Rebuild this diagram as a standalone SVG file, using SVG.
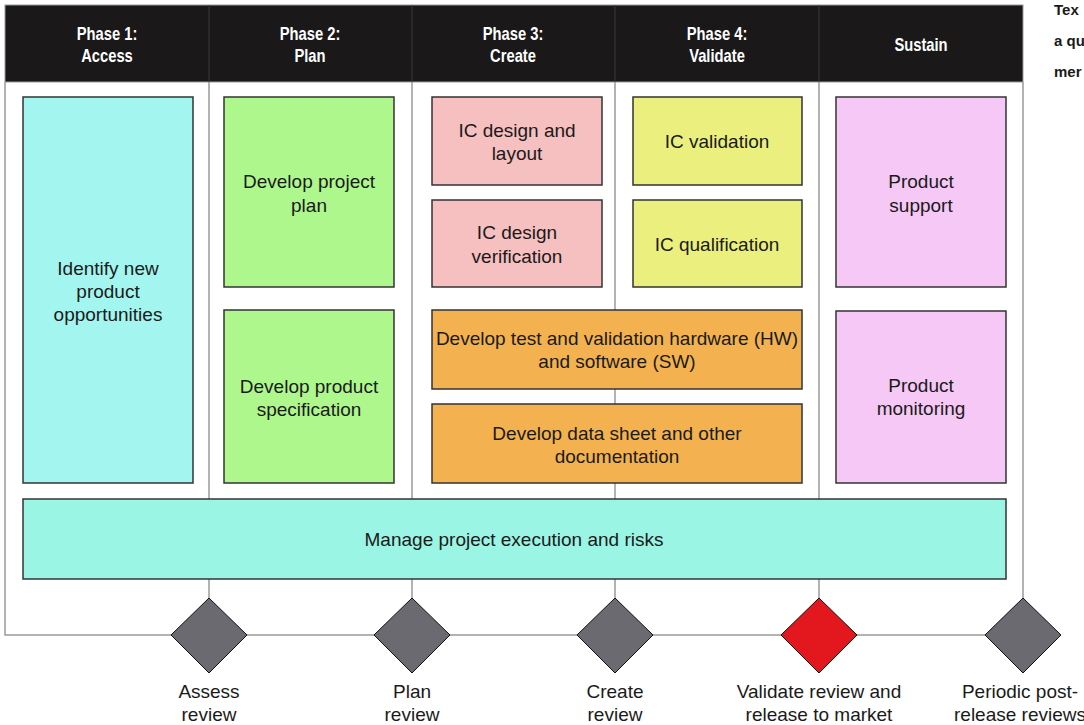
<svg xmlns="http://www.w3.org/2000/svg" width="1084" height="725" viewBox="0 0 1084 725">
  <style>
    .hdr { font-family: "Liberation Sans", Arial, sans-serif; font-weight: bold; font-size: 18px; fill: #ffffff; text-anchor: middle; }
    .lbl { font-family: "Liberation Sans", Arial, sans-serif; font-size: 19px; fill: #1a1a1a; text-anchor: middle; }
    .side { font-family: "Liberation Sans", Arial, sans-serif; font-weight: bold; font-size: 15px; fill: #1a1a1a; }
    .box { stroke: #333333; stroke-width: 1.5; }
    .rule { stroke: #9a9a9a; stroke-width: 1.5; fill: none; }
    .gate { fill: #6a6a70; stroke: #111111; stroke-width: 1; }
    .gate.red { fill: #e3171e; }
  </style>

  <rect x="0" y="0" width="1084" height="725" fill="#ffffff"/>

  <!-- frame, column rules and the review timeline -->
  <g id="connectors">
    <path class="rule" d="M5,82 V635 H171"/>
    <line class="rule" x1="247" y1="635" x2="374" y2="635"/>
    <line class="rule" x1="450" y1="635" x2="577" y2="635"/>
    <line class="rule" x1="653" y1="635" x2="781" y2="635"/>
    <line class="rule" x1="857" y1="635" x2="985" y2="635"/>
    <line class="rule" x1="1023" y1="82" x2="1023" y2="598"/>
    <line class="rule" x1="209" y1="82" x2="209" y2="598"/>
    <line class="rule" x1="412" y1="82" x2="412" y2="598"/>
    <line class="rule" x1="615" y1="82" x2="615" y2="598"/>
    <line class="rule" x1="819" y1="82" x2="819" y2="598"/>
  </g>

  <!-- phase header bar; titles are set in a condensed width -->
  <g id="header">
    <rect x="5" y="5" width="1018" height="77" fill="#1a1818" stroke="#9a9a9a" stroke-width="1"/>
    <g stroke="#3a3a3a" stroke-width="1">
      <line x1="209" y1="5" x2="209" y2="82"/>
      <line x1="412" y1="5" x2="412" y2="82"/>
      <line x1="615" y1="5" x2="615" y2="82"/>
      <line x1="819" y1="5" x2="819" y2="82"/>
    </g>
    <g transform="translate(107,0) scale(0.82,1)">
      <text class="hdr" x="0" y="40">Phase 1:</text>
      <text class="hdr" x="0" y="62">Access</text>
    </g>
    <g transform="translate(310,0) scale(0.82,1)">
      <text class="hdr" x="0" y="40">Phase 2:</text>
      <text class="hdr" x="0" y="62">Plan</text>
    </g>
    <g transform="translate(513,0) scale(0.82,1)">
      <text class="hdr" x="0" y="40">Phase 3:</text>
      <text class="hdr" x="0" y="62">Create</text>
    </g>
    <g transform="translate(717,0) scale(0.82,1)">
      <text class="hdr" x="0" y="40">Phase 4:</text>
      <text class="hdr" x="0" y="62">Validate</text>
    </g>
    <g transform="translate(921,0) scale(0.82,1)">
      <text class="hdr" x="0" y="51">Sustain</text>
    </g>
  </g>

  <g id="identify-opportunities">
    <rect class="box" x="23" y="97" width="170" height="386" fill="#a3f5ef"/>
    <text class="lbl" x="108" y="275">Identify new</text>
    <text class="lbl" x="108" y="298">product</text>
    <text class="lbl" x="108" y="321">opportunities</text>
  </g>

  <g id="project-plan">
    <rect class="box" x="224" y="97" width="170" height="190" fill="#adf78d"/>
    <text class="lbl" x="309" y="188">Develop project</text>
    <text class="lbl" x="309" y="212">plan</text>
  </g>

  <g id="product-spec">
    <rect class="box" x="224" y="310" width="170" height="173" fill="#adf78d"/>
    <text class="lbl" x="309" y="393">Develop product</text>
    <text class="lbl" x="309" y="416">specification</text>
  </g>

  <g id="ic-design-layout">
    <rect class="box" x="432" y="97" width="170" height="88" fill="#f6bfc0"/>
    <text class="lbl" x="517" y="137">IC design and</text>
    <text class="lbl" x="517" y="160">layout</text>
  </g>

  <g id="ic-design-verification">
    <rect class="box" x="432" y="200" width="170" height="87" fill="#f6bfc0"/>
    <text class="lbl" x="517" y="239">IC design</text>
    <text class="lbl" x="517" y="263">verification</text>
  </g>

  <g id="ic-validation">
    <rect class="box" x="633" y="97" width="169" height="88" fill="#eaef7e"/>
    <text class="lbl" x="717" y="148">IC validation</text>
  </g>

  <g id="ic-qualification">
    <rect class="box" x="633" y="200" width="169" height="87" fill="#eaef7e"/>
    <text class="lbl" x="717" y="251">IC qualification</text>
  </g>

  <g id="test-hw-sw">
    <rect class="box" x="432" y="310" width="370" height="79" fill="#f3b24f"/>
    <text class="lbl" x="617" y="345">Develop test and validation hardware (HW)</text>
    <text class="lbl" x="617" y="368">and software (SW)</text>
  </g>

  <g id="data-sheet">
    <rect class="box" x="432" y="404" width="370" height="79" fill="#f3b24f"/>
    <text class="lbl" x="617" y="440">Develop data sheet and other</text>
    <text class="lbl" x="617" y="463">documentation</text>
  </g>

  <g id="product-support">
    <rect class="box" x="836" y="97" width="170" height="190" fill="#f6c8f6"/>
    <text class="lbl" x="921" y="188">Product</text>
    <text class="lbl" x="921" y="212">support</text>
  </g>

  <g id="product-monitoring">
    <rect class="box" x="836" y="311" width="170" height="172" fill="#f6c8f6"/>
    <text class="lbl" x="921" y="392">Product</text>
    <text class="lbl" x="921" y="415">monitoring</text>
  </g>

  <g id="manage-execution">
    <rect class="box" x="23" y="499" width="983" height="80" fill="#9af5e5"/>
    <text class="lbl" x="514" y="546">Manage project execution and risks</text>
  </g>

  <g id="assess-review">
    <polygon class="gate" points="209,598 247,635 209,673 171,635"/>
    <text class="lbl" x="209" y="698">Assess</text>
    <text class="lbl" x="209" y="721">review</text>
  </g>

  <g id="plan-review">
    <polygon class="gate" points="412,598 450,635 412,673 374,635"/>
    <text class="lbl" x="412" y="698">Plan</text>
    <text class="lbl" x="412" y="721">review</text>
  </g>

  <g id="create-review">
    <polygon class="gate" points="615,598 653,635 615,673 577,635"/>
    <text class="lbl" x="615" y="698">Create</text>
    <text class="lbl" x="615" y="721">review</text>
  </g>

  <g id="validate-review">
    <polygon class="gate red" points="819,598 857,635 819,673 781,635"/>
    <text class="lbl" x="819" y="698">Validate review and</text>
    <text class="lbl" x="819" y="721">release to market</text>
  </g>

  <g id="post-release-reviews">
    <polygon class="gate" points="1023,598 1061,635 1023,673 985,635"/>
    <text class="lbl" x="1020" y="698">Periodic post-</text>
    <text class="lbl" x="1020" y="721">release reviews</text>
  </g>

  <!-- running text beside the figure -->
  <g id="side-text">
    <text class="side" x="1054" y="15">Tex</text>
    <text class="side" x="1054" y="46">a qu</text>
    <text class="side" x="1054" y="77">mer</text>
  </g>
</svg>
